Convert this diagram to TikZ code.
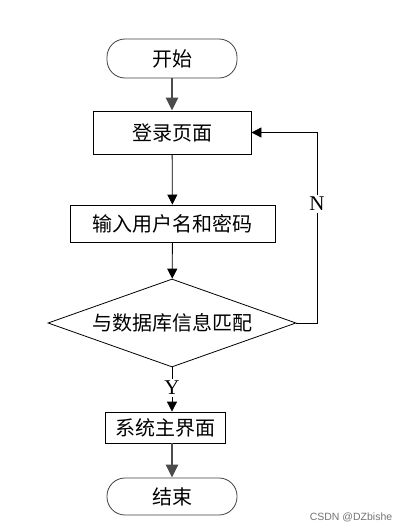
\documentclass[tikz,border=0pt]{standalone}
\usepackage{fontspec}
\setmainfont{Liberation Serif}
\newfontfamily\cjk{Noto Sans CJK SC}
\newfontfamily\wmark{Liberation Sans}
\usetikzlibrary{shapes.geometric,arrows.meta}

\begin{document}
\begin{tikzpicture}[x=1pt, y=-1pt,
    every node/.style={font=\cjk\fontsize{20}{22}\selectfont, inner sep=0pt},
    terminal/.style={draw=black!75, line width=0.8pt, rounded corners=18pt,
                     minimum width=130pt},
    box/.style={draw, line width=0.8pt},
    check/.style={draw, line width=0.8pt, shape=diamond, aspect=2.8,
                  minimum width=248pt, minimum height=88pt},
    tag/.style={font=\fontsize{21}{22}\selectfont, inner sep=2pt},
    flow/.style={-{Triangle[length=10pt,width=10pt]}, line width=0.8pt},
    heavy/.style={-{Triangle[length=13pt,width=12pt]}, line width=2.6pt, black!70}]
    \useasboundingbox (0,0) rectangle (406,532);

    % Start and login
    \node[terminal, minimum height=39pt] (start) at (172,58.5) {开始};
    \node[box, minimum width=158pt, minimum height=43pt] (login) at (172,132.5) {登录页面};
    \node[box, minimum width=205pt, minimum height=37pt] (input) at (172.5,223.5) {输入用户名和密码};

    % Decision
    \node[check] (match) at (172,323) {与数据库信息匹配};
    \node[tag] (no) at (317,204) {N};
    \node[tag] (yes) at (172,388) {Y};

    % Main page and end
    \node[box, minimum width=120pt, minimum height=31pt] (main) at (165,427.5) {系统主界面};
    \node[terminal, minimum height=37pt] (end) at (172,496.5) {结束};

    % Connectors
    \draw[heavy] (start) -- (login);
    \draw[flow] (login) -- (input);
    \draw[flow] (input) -- (match);
    \draw[line width=0.8pt] (match.east) -| (no);
    \draw[flow] (no) |- (login.east);
    \draw[line width=0.8pt] (match.south) -- (yes);
    \draw[flow] (yes) -- (yes |- main.north);
    \draw[heavy] (main.south -| end.north) -- (end.north);

    % Watermark
    \node[font=\wmark\fontsize{10.5}{12}\selectfont, text=black!55] (mark) at (351,517) {CSDN @DZbishe};
\end{tikzpicture}
\end{document}
